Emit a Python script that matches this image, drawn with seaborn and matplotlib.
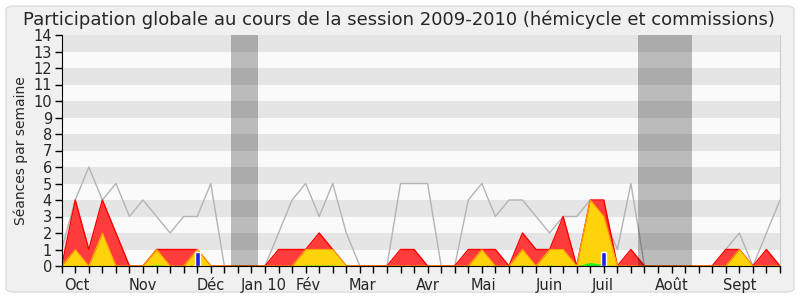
import numpy as np
import pandas as pd
import matplotlib
matplotlib.use("Agg")
import matplotlib.pyplot as plt
from matplotlib.patches import FancyBboxPatch
import matplotlib.transforms as mtransforms
import seaborn as sns

# ---- data (one value per week, 54 weeks) ----
weeks = list(range(54))
presence_line = [1, 4, 6, 4, 5, 3, 4, 3, 2, 3, 3, 5, 0, 0, 0, 0, 2, 4, 5, 3,
                 5, 2, 0, 0, 0, 5, 5, 5, 0, 0, 4, 5, 3, 4, 4, 3, 2, 3, 3, 4,
                 3, 1, 5, 0, 0, 0, 0, 0, 0, 1, 2, 0, 2, 4]
total = [0, 4, 1, 4, 2, 0, 0, 1, 1, 1, 1, 0, 0, 0, 0, 0, 1, 1, 1, 2,
         1, 0, 0, 0, 0, 1, 1, 0, 0, 0, 1, 1, 1, 0, 2, 1, 1, 3, 0, 4,
         4, 0, 1, 0, 0, 0, 0, 0, 0, 1, 1, 0, 1, 0]
commission = [0, 1, 0, 2, 0, 0, 0, 1, 0, 0, 1, 0, 0, 0, 0, 0, 0, 0, 1, 1,
              1, 0, 0, 0, 0, 0, 0, 0, 0, 0, 0, 1, 0, 0, 1, 0, 1, 1, 0, 4,
              3, 0, 0, 0, 0, 0, 0, 0, 0, 0, 1, 0, 0, 0]
interventions = [0, 0, 0, 0, 0, 0, 0, 0.08, 0, 0, 0, 0, 0, 0, 0, 0, 0, 0, 0.05, 0.05,
                 0.05, 0, 0, 0, 0, 0, 0, 0, 0, 0, 0, 0, 0, 0, 0.05, 0, 0.05, 0, 0, 0.22,
                 0.08, 0, 0, 0, 0, 0, 0, 0, 0, 0, 0, 0, 0, 0]
question_weeks = [10, 40]
question_values = [0.85, 0.85]
vacations = [(12.5, 14.5), (42.5, 46.5)]
month_labels = ["Oct", "Nov", "Déc", "Jan 10", "Fév", "Mar", "Avr", "Mai", "Juin", "Juil", "Août", "Sept"]
month_pos = [1.1, 6.0, 11.0, 14.9, 18.2, 22.2, 27.05, 31.15, 36.0, 39.9, 45.0, 50.0]

title = "Participation globale au cours de la session 2009-2010 (hémicycle et commissions)"
ylabel = "Séances par semaine"

df = pd.DataFrame({"week": weeks, "presence": presence_line, "total": total,
                   "commission": commission, "interv": interventions})

sns.set_style("white")
plt.rcParams["font.family"] = ["DejaVu Sans"]

fig = plt.figure(figsize=(8, 3), dpi=100)
fig.patch.set_facecolor("white")
frame = FancyBboxPatch((6 / 800, 8 / 300), 788 / 800, 286 / 300,
                       boxstyle="round,pad=0,rounding_size=0.012",
                       transform=fig.transFigure, facecolor="#f0f0f0",
                       edgecolor="#dcdcdc", linewidth=1, zorder=-10)
fig.patches.append(frame)

ax = fig.add_axes([61.7 / 800, 34 / 300, (780 - 61.7) / 800, 231 / 300])
ax.set_facecolor("#fafafa")

# stripes
for k in range(1, 14, 2):
    ax.axhspan(k, k + 1, color="#e5e5e5", lw=0, zorder=0)

# gray presence line
sns.lineplot(data=df, x="week", y="presence", ax=ax, color="#b4b4b4", lw=1, zorder=2)

# total (red)
ax.fill_between(df["week"], 0, df["total"], color="#ff3c3c", lw=0, zorder=3)
sns.lineplot(data=df, x="week", y="total", ax=ax, color="#ff0000", lw=1, zorder=3.1)
# commission (yellow)
ax.fill_between(df["week"], 0, df["commission"], color="#ffd30a", lw=0, zorder=4)
sns.lineplot(data=df, x="week", y="commission", ax=ax, color="#ffa500", lw=0.8, zorder=4.1)
# interventions (green)
ax.fill_between(df["week"], 0, df["interv"], color="#22ee22", lw=0, zorder=5)
# questions (blue)
ax.bar(question_weeks, question_values, width=0.35, color="#2222dd", zorder=6)

# vacations
for a, b in vacations:
    ax.axvspan(a, b, color="black", alpha=0.25, lw=0, zorder=7)

ax.set_xlim(0, 53)
ax.set_ylim(0, 14)
ax.set_yticks(range(0, 15))
ax.set_xticks(range(0, 54))
ax.set_xticklabels([])
ax.tick_params(axis="y", direction="out", length=5, width=1, color="black",
               labelsize=10.5, pad=2, left=True)
ax.tick_params(axis="x", direction="out", length=5, width=1, color="black", bottom=True)
ax.spines["top"].set_visible(False)
ax.spines["right"].set_color("#cccccc")
ax.spines["left"].set_color("black")
ax.spines["bottom"].set_color("black")
ax.spines["left"].set_zorder(10)
ax.spines["bottom"].set_zorder(10)
ax.set_xlabel("")
ax.set_ylabel(ylabel, fontsize=10, labelpad=4)

trans = mtransforms.blended_transform_factory(ax.transData, ax.transAxes)
for lab, p in zip(month_labels, month_pos):
    ax.text(p, -0.052, lab, transform=trans, ha="center", va="top", fontsize=10.5)

fig.text(0.499, 0.935, title, ha="center", va="center", fontsize=13)

fig.savefig("out.png", dpi=100)
